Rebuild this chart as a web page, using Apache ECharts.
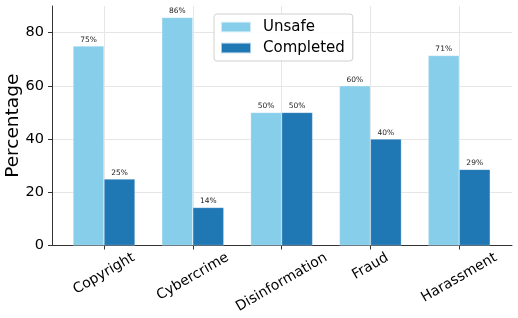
<!DOCTYPE html>
<html>
<head>
<meta charset="utf-8">
<script src="https://cdn.jsdelivr.net/npm/echarts@6/dist/echarts.min.js"></script>
<style>
html,body{margin:0;padding:0;background:#fff;}
#c{width:518px;height:318px;}
</style>
</head>
<body>
<div id="c"></div>
<script>
const categories = ['Copyright', 'Cybercrime', 'Disinformation', 'Fraud', 'Harassment'];
const unsafeValues = [75, 85.7, 50, 60, 71.4];
const completedValues = [25, 14.3, 50, 40, 28.6];
const yTicks = [0, 20, 40, 60, 80];
const seriesNames = ['Unsafe', 'Completed'];

const FONT = 'DejaVu Sans';
const LABEL_SIZE = 14;

// per-label offset so rotated labels hang with their top edge at the same height
const cv = document.createElement('canvas').getContext('2d');
cv.font = LABEL_SIZE + 'px "' + FONT + '"';
const H = LABEL_SIZE * 1.17;
const xData = categories.map(c => {
  const w = cv.measureText(c).width;
  const d = w * 0.25;
  return { value: c, textStyle: { align: 'center', verticalAlign: 'middle', lineHeight: 1.732 * d, padding: [0, d, 0, 0] } };
});

const chart = echarts.init(document.getElementById('c'), null, { renderer: 'canvas' });
const axisColor = '#333';
const gridColor = '#e6e6e6';

chart.setOption({
  animation: false,
  backgroundColor: '#fff',
  textStyle: { fontFamily: FONT },
  grid: [
    { left: 52, right: 6, top: 6, bottom: 72.5, outerBoundsMode: 'none', containLabel: false },
    { left: 59.6, width: 444, top: 6, bottom: 72.5, outerBoundsMode: 'none', containLabel: false }
  ],
  xAxis: [
    {
      gridIndex: 0, type: 'value', min: 0, max: 1,
      axisLine: { show: true, lineStyle: { color: axisColor, width: 1 } },
      axisTick: { show: false }, axisLabel: { show: false }, splitLine: { show: false }
    },
    {
      gridIndex: 1, type: 'category', data: xData,
      axisLine: { show: false },
      axisTick: { show: true, alignWithLabel: true, length: 4, lineStyle: { color: axisColor } },
      splitLine: { show: true, alignWithLabel: true, lineStyle: { color: gridColor, width: 1 } },
      axisLabel: {
        interval: 0, rotate: 30, align: 'center', verticalAlign: 'middle',
        margin: 4 + 0.433 * H, hideOverlap: false,
        formatter: v => '\n' + v,
        fontSize: LABEL_SIZE, color: '#000', fontFamily: FONT
      }
    }
  ],
  yAxis: [
    {
      gridIndex: 0, type: 'value', min: 0, max: 90, interval: 20,
      name: 'Percentage', nameLocation: 'middle', nameGap: 29, nameMoveOverlap: false,
      nameTextStyle: { fontSize: 18.5, color: '#000', fontFamily: FONT },
      axisLine: { show: true, lineStyle: { color: axisColor, width: 1 } },
      axisTick: { show: true, length: 4, customValues: yTicks, lineStyle: { color: axisColor } },
      axisLabel: { customValues: yTicks, fontSize: 14.5, color: '#000', margin: 8, fontFamily: FONT },
      splitLine: { show: true, lineStyle: { color: [gridColor, gridColor, gridColor, gridColor, gridColor, 'transparent'], width: 1 } }
    },
    {
      gridIndex: 1, type: 'value', min: 0, max: 90, show: false
    }
  ],
  legend: {
    orient: 'vertical', left: 214, top: 14,
    data: seriesNames,
    icon: 'rect', itemWidth: 30, itemHeight: 10.5, itemGap: 5,
    padding: [5, 8, 5, 6],
    borderColor: '#d0d0d0', borderWidth: 1, borderRadius: 3,
    backgroundColor: 'rgba(255,255,255,0.9)',
    textStyle: { fontSize: 15, color: '#000', fontFamily: FONT, lineHeight: 16, padding: [0, 0, 0, 7] }
  },
  series: [
    {
      name: seriesNames[0], type: 'bar', xAxisIndex: 1, yAxisIndex: 1,
      data: unsafeValues, barWidth: 31, barGap: '0%',
      itemStyle: { color: '#87CEEB', borderColor: 'rgba(255,255,255,0.6)', borderWidth: 0.5 },
      label: { show: true, position: 'top', distance: 2, fontSize: 7.5, color: '#222', fontFamily: FONT,
               formatter: p => Math.round(p.value) + '%' }
    },
    {
      name: seriesNames[1], type: 'bar', xAxisIndex: 1, yAxisIndex: 1,
      data: completedValues, barWidth: 31, barGap: '0%',
      itemStyle: { color: '#1f77b4', borderColor: 'rgba(255,255,255,0.6)', borderWidth: 0.5 },
      label: { show: true, position: 'top', distance: 2, fontSize: 7.5, color: '#222', fontFamily: FONT,
               formatter: p => Math.round(p.value) + '%' }
    }
  ]
});
</script>
</body>
</html>
